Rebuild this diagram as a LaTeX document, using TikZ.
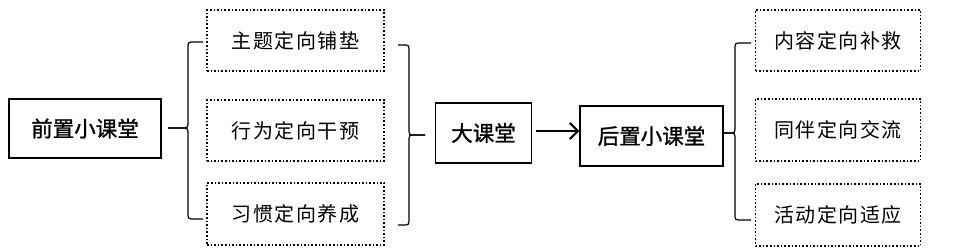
\documentclass[tikz,border=0pt]{standalone}
\usepackage{fontspec}
\newfontfamily\cjk[FakeBold=1.2]{Noto Sans CJK SC}
\newfontfamily\cjksp[LetterSpace=8]{Noto Sans CJK SC}
\usetikzlibrary{arrows.meta}
\begin{document}
\begin{tikzpicture}[x=1pt,y=-1pt,
  solidbox/.style={draw, line width=1.4pt, inner sep=0pt, font=\cjk\fontsize{21.5}{21.5}\selectfont},
  dotbox/.style={draw, dotted, line width=1.6pt, inner sep=0pt, font=\cjksp\fontsize{20}{20}\selectfont},
  brace/.style={line width=1.2pt},
  arr/.style={line width=2pt, -{Straight Barb[length=8pt,width=16pt,line width=2pt]}}]
\useasboundingbox (0,0) rectangle (959,248);
% solid boxes
\node[solidbox, minimum width=152pt, minimum height=59pt] (pre) at (85,128.5) {前置小课堂};
\node[solidbox, minimum width=96pt, minimum height=60pt] (big) at (483.5,133) {大课堂};
\node[solidbox, minimum width=143pt, minimum height=60pt] (post) at (651.5,136) {后置小课堂};
% left dotted boxes
\node[dotbox, minimum width=177pt, minimum height=61pt] (a1) at (295.5,40.5) {主题定向铺垫};
\node[dotbox, minimum width=177pt, minimum height=61pt] (a2) at (295.5,130.5) {行为定向干预};
\node[dotbox, minimum width=177pt, minimum height=62pt] (a3) at (295.5,214) {习惯定向养成};
% right dotted boxes
\node[dotbox, minimum width=165pt, minimum height=61pt] (b1) at (838,40.5) {内容定向补救};
\node[dotbox, minimum width=165pt, minimum height=62pt] (b2) at (838,130) {同伴定向交流};
\node[dotbox, minimum width=165pt, minimum height=62pt] (b3) at (838,215) {活动定向适应};
% brace coordinates
\coordinate (lt) at (203,42);
\coordinate (lb) at (203,219);
\coordinate (ltip) at (168,128);
\coordinate (mt) at (398,45);
\coordinate (mb) at (398,225);
\coordinate (mtip) at (425,135);
\coordinate (rt) at (751,43);
\coordinate (rb) at (751,220);
\coordinate (rtip) at (723,133);
% left brace
\draw[brace] (lt) -- (194,42) .. controls (188,42) .. (188,49) -- (188,121) .. controls (188,128) .. (181,128) -- (ltip);
\draw[brace] (ltip) -- (181,128) .. controls (188,128) .. (188,135) -- (188,212) .. controls (188,219) .. (194,219) -- (lb);
% middle brace
\draw[brace] (mt) -- (403,45) .. controls (409,45) .. (409,52) -- (409,128) .. controls (409,135) .. (415,135) -- (mtip);
\draw[brace] (mtip) -- (415,135) .. controls (409,135) .. (409,142) -- (409,218) .. controls (409,225) .. (403,225) -- (mb);
% right brace
\draw[brace] (rt) -- (741,43) .. controls (735,43) .. (735,50) -- (735,126) .. controls (735,133) .. (729,133) -- (rtip);
\draw[brace] (rtip) -- (729,133) .. controls (735,133) .. (735,140) -- (735,213) .. controls (735,220) .. (741,220) -- (rb);
% arrow
\draw[arr] (big.east) ++(4pt,2pt) coordinate (as) (as) -- (post.west |- as);
\end{tikzpicture}
\end{document}
